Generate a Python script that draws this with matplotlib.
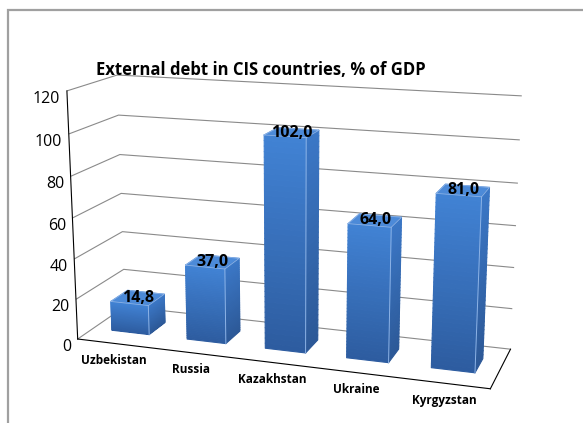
import numpy as np
import matplotlib
matplotlib.use("Agg")
import matplotlib.pyplot as plt
import matplotlib.colors as mcolors
from matplotlib.patches import Rectangle
from mpl_toolkits.mplot3d import proj3d
from mpl_toolkits.mplot3d.art3d import Poly3DCollection

# ---- data ----
countries = ["Uzbekistan", "Russia", "Kazakhstan", "Ukraine", "Kyrgyzstan"]
debt_pct_gdp = [14.8, 37.0, 102.0, 64.0, 81.0]
z_ticks = [0, 20, 40, 60, 80, 100, 120]
title = "External debt in CIS countries, % of GDP"

W, H = 583, 423
plt.rcParams["font.family"] = ["Open Sans", "DejaVu Sans"]
fig = plt.figure(figsize=(W / 100, H / 100), dpi=100)

# thin grey frame around the chart area
fig.add_artist(Rectangle((8 / W, -0.05), 1.2, 1 - 10 / H + 0.05,
                         transform=fig.transFigure, fill=False,
                         edgecolor="#a0a0a0", linewidth=1.6))

zoom = 1.373
ax = fig.add_axes([-0.008, 0.034, 1.0, 0.86], projection="3d",
                  proj_type="persp", focal_length=0.673)
ax.view_init(elev=14.7, azim=-71.4)
ax.set_box_aspect((435, 114, 262), zoom=zoom)

n = len(countries)
ax.set_xlim(0, n)
ax.set_ylim(0, 1)
ax.set_zlim(0, 120)

# ---- 3D columns with a vertical colour gradient ----
bw, bd = 0.5, 0.36
front_top = np.array(mcolors.to_rgb("#4182d4"))
front_bot = np.array(mcolors.to_rgb("#2d5c9f"))
side_top = np.array(mcolors.to_rgb("#3b77c6"))
side_bot = np.array(mcolors.to_rgb("#2c5896"))
top_col = np.array(mcolors.to_rgb("#4c8ad8"))
edge_col = "#8db3e6"
n_strips = 40

polys, cols = [], []
for i, v in enumerate(debt_pct_gdp):
    x0 = i + 0.5 - bw / 2
    x1 = x0 + bw
    y0 = 0.5 - bd / 2
    y1 = y0 + bd
    levels = np.linspace(0, v, n_strips + 1)
    for k in range(n_strips):
        za, zb = levels[k], levels[k + 1]
        t = (k + 0.5) / n_strips
        polys.append([(x0, y0, za), (x1, y0, za), (x1, y0, zb), (x0, y0, zb)])
        cols.append(front_bot + (front_top - front_bot) * t)
        polys.append([(x1, y0, za), (x1, y1, za), (x1, y1, zb), (x1, y0, zb)])
        cols.append(side_bot + (side_top - side_bot) * t)
    polys.append([(x0, y0, v), (x1, y0, v), (x1, y1, v), (x0, y1, v)])
    cols.append(top_col)
    # light edges: front-right vertical edge and the outline of the top
    ax.plot([x1, x1], [y0, y0], [0, v], color=edge_col, lw=0.7,
            zorder=50, clip_on=False)
    ax.plot([x0, x1, x1, x0, x0], [y0, y0, y1, y1, y0], [v] * 5,
            color=edge_col, lw=0.6, zorder=50, clip_on=False)

# edges in the face colour close the seams between the gradient strips
bars = Poly3DCollection(polys, facecolors=cols, edgecolors=cols,
                        linewidths=0.8, antialiased=True)
bars.set_clip_on(False)
ax.add_collection3d(bars)

# value labels at the centre of each bar top, projected to screen space
M = ax.get_proj()
for i, v in enumerate(debt_pct_gdp):
    px, py, _ = proj3d.proj_transform(i + 0.5, 0.5, v, M)
    ax.text2D(px, py, f"{v:.1f}".replace(".", ","), transform=ax.transData,
              ha="center", va="center", fontsize=11.5, fontweight="bold",
              color="black", zorder=100, clip_on=False)

# ---- walls, floor, grid ----
grid_col = "#8a8a8a"
for axis in (ax.xaxis, ax.yaxis, ax.zaxis):
    axis.set_pane_color((1, 1, 1, 0))
    axis._axinfo["tick"]["inward_factor"] = 0.0
    axis._axinfo["tick"]["outward_factor"] = 0.0
    axis._axinfo["axisline"]["color"] = grid_col
    axis._axinfo["axisline"]["linewidth"] = 0.8
ax.xaxis.pane.set_edgecolor((1, 1, 1, 0))
ax.yaxis.pane.set_edgecolor((1, 1, 1, 0))
ax.zaxis.pane.set_edgecolor(grid_col)
ax.xaxis._axinfo["grid"]["linewidth"] = 0.0
ax.yaxis._axinfo["grid"]["linewidth"] = 0.0
ax.zaxis._axinfo["grid"]["color"] = grid_col
ax.zaxis._axinfo["grid"]["linewidth"] = 0.8

ax.set_xticks(np.arange(n) + 0.5)
ax.set_xticklabels(countries, fontsize=8.5, fontweight="bold")
ax.set_yticks([])
ax.set_zticks(z_ticks)
ax.set_zticklabels([str(t) for t in z_ticks], fontsize=11.5)
ax.zaxis.set_ticks_position("lower")
ax.tick_params(axis="z", pad=-6)
ax.tick_params(axis="x", pad=-3)
for lab in ax.get_zticklabels():
    lab.set_ha("right")

fig.text(261 / W, 1 - 70 / H, title, ha="center", va="center",
         fontsize=12, fontweight="bold")

fig.savefig("out.png", dpi=100)
